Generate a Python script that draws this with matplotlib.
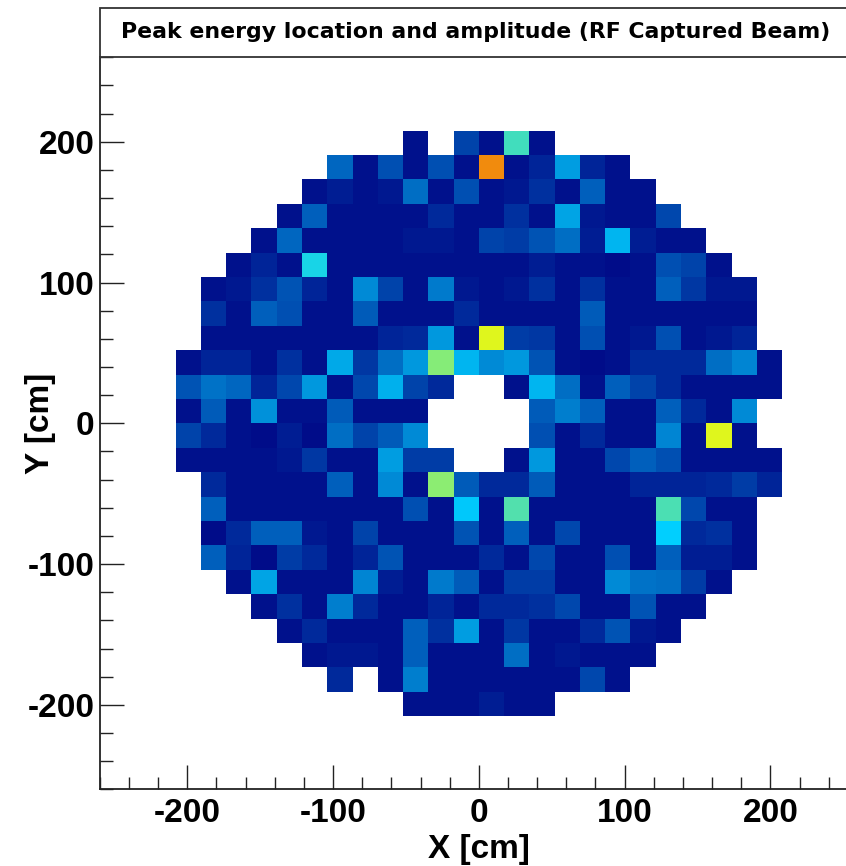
import numpy as np
import matplotlib
matplotlib.use("Agg")
import matplotlib.pyplot as plt
from matplotlib.colors import LinearSegmentedColormap
from matplotlib.patches import Rectangle
from matplotlib.ticker import MultipleLocator

# histogram binning: 30 x 30 bins from -260 to 260 cm
n_bins = 30
lo, hi = -260, 260
first_bin = 3  # the detector disc starts at bin 3 in x and y

# peak amplitude per cell, rows from top (y=+208) to bottom, 0 = empty bin
peak = [
    [0, 0, 0, 0, 0, 0, 0, 0, 0, 3, 0, 11, 3, 42, 3, 0, 0, 0, 0, 0, 0, 0, 0, 0],
    [0, 0, 0, 0, 0, 0, 17, 3, 13, 3, 13, 3, 74, 3, 6, 26, 6, 3, 0, 0, 0, 0, 0, 0],
    [0, 0, 0, 0, 0, 3, 5, 3, 4, 18, 3, 13, 3, 4, 8, 3, 16, 3, 3, 0, 0, 0, 0, 0],
    [0, 0, 0, 0, 3, 16, 3, 3, 3, 3, 7, 3, 3, 8, 3, 27, 4, 3, 3, 12, 0, 0, 0, 0],
    [0, 0, 0, 3, 17, 3, 3, 3, 3, 4, 4, 3, 11, 10, 14, 18, 5, 30, 5, 3, 3, 0, 0, 0],
    [0, 0, 3, 6, 3, 37, 3, 3, 3, 3, 3, 3, 3, 3, 5, 3, 3, 2, 3, 13, 11, 3, 0, 0],
    [0, 3, 4, 8, 14, 6, 3, 23, 11, 3, 20, 4, 3, 4, 8, 3, 8, 3, 3, 16, 9, 4, 4, 0],
    [0, 8, 3, 16, 13, 3, 3, 15, 3, 3, 3, 7, 3, 3, 3, 3, 15, 3, 3, 3, 3, 3, 3, 0],
    [0, 3, 3, 3, 3, 3, 3, 3, 6, 7, 25, 3, 62, 10, 9, 3, 13, 3, 4, 13, 3, 4, 6, 0],
    [3, 6, 6, 3, 8, 3, 28, 9, 18, 25, 50, 30, 23, 25, 14, 3, 2, 3, 7, 7, 7, 18, 22, 3],
    [14, 19, 17, 6, 12, 25, 3, 12, 29, 11, 7, 0, 0, 3, 30, 18, 3, 16, 11, 7, 3, 3, 3, 3],
    [3, 15, 3, 24, 3, 3, 15, 3, 3, 3, 0, 0, 0, 0, 15, 21, 16, 3, 3, 16, 7, 3, 23, 0],
    [11, 7, 3, 2, 5, 2, 18, 11, 15, 23, 0, 0, 0, 0, 13, 3, 7, 3, 3, 22, 3, 62, 3, 0],
    [3, 3, 3, 3, 4, 9, 3, 3, 26, 10, 10, 0, 0, 3, 25, 3, 3, 12, 16, 13, 3, 3, 3, 3],
    [0, 7, 3, 3, 3, 3, 16, 3, 23, 3, 51, 15, 7, 7, 15, 3, 3, 3, 6, 6, 6, 7, 10, 6],
    [0, 16, 3, 3, 3, 3, 3, 3, 3, 13, 3, 33, 3, 44, 3, 3, 3, 3, 3, 43, 12, 3, 3, 0],
    [0, 2, 7, 16, 16, 4, 3, 11, 3, 3, 3, 14, 3, 16, 3, 12, 3, 3, 3, 34, 7, 8, 3, 0],
    [0, 16, 6, 2, 10, 7, 3, 6, 14, 3, 3, 3, 7, 3, 12, 3, 3, 13, 3, 16, 5, 5, 3, 0],
    [0, 0, 3, 27, 3, 3, 3, 22, 5, 3, 20, 15, 3, 10, 10, 3, 3, 23, 19, 18, 10, 3, 0, 0],
    [0, 0, 0, 3, 8, 3, 21, 7, 3, 3, 6, 3, 7, 7, 8, 12, 3, 3, 14, 3, 3, 0, 0, 0],
    [0, 0, 0, 0, 3, 7, 3, 3, 3, 16, 8, 26, 3, 9, 3, 3, 7, 14, 4, 3, 0, 0, 0, 0],
    [0, 0, 0, 0, 0, 3, 4, 4, 3, 16, 3, 3, 3, 18, 3, 4, 3, 3, 3, 0, 0, 0, 0, 0],
    [0, 0, 0, 0, 0, 0, 7, 0, 3, 21, 3, 3, 3, 3, 3, 3, 12, 3, 0, 0, 0, 0, 0, 0],
    [0, 0, 0, 0, 0, 0, 0, 0, 0, 3, 3, 3, 5, 3, 3, 0, 0, 0, 0, 0, 0, 0, 0, 0],
]

title = "Peak energy location and amplitude (RF Captured Beam)"

# ROOT style rainbow palette
stops = [0.00, 0.34, 0.61, 0.84, 1.00]
red = [0.00, 0.00, 0.87, 1.00, 0.51]
green = [0.00, 0.81, 1.00, 0.20, 0.00]
blue = [0.51, 1.00, 0.12, 0.00, 0.00]
cmap = LinearSegmentedColormap.from_list(
    "root_rainbow", [(s, (r, g, b)) for s, r, g, b in zip(stops, red, green, blue)])

edges = np.linspace(lo, hi, n_bins + 1)
counts = np.zeros((n_bins, n_bins))
disc = np.array(peak, dtype=float)[::-1]
k = disc.shape[0]
counts[first_bin:first_bin + k, first_bin:first_bin + k] = disc
counts = np.ma.masked_equal(counts, 0)

plt.rcParams['font.family'] = ['Liberation Sans', 'DejaVu Sans']
plt.rcParams['font.weight'] = 'bold'
plt.rcParams['axes.unicode_minus'] = False

W, H = 846, 866
fig = plt.figure(figsize=(W / 100, H / 100), dpi=100)
ax = fig.add_axes([99.85 / W, 1 - 789.3 / H, 758 / W, 732 / H])

ax.pcolormesh(edges, edges, counts, cmap=cmap, vmin=0, vmax=100)
ax.set_xlim(lo, hi)
ax.set_ylim(lo, hi)

ax.xaxis.set_major_locator(MultipleLocator(100))
ax.xaxis.set_minor_locator(MultipleLocator(20))
ax.yaxis.set_major_locator(MultipleLocator(100))
ax.yaxis.set_minor_locator(MultipleLocator(20))
ax.tick_params(which='both', direction='in', top=False, right=False, width=1.0, color='#222222')
ax.tick_params(which='major', length=17, labelsize=24)
ax.tick_params(axis='y', which='major', pad=4)
ax.tick_params(axis='x', which='major', pad=6)
ax.tick_params(which='minor', length=9)
for lab in ax.get_xticklabels() + ax.get_yticklabels():
    lab.set_fontweight('bold')

for side in ['top', 'right']:
    ax.spines[side].set_visible(False)
for side in ['left', 'bottom']:
    ax.spines[side].set_linewidth(1.3)
    ax.spines[side].set_color('#222222')

ax.set_xlabel("X [cm]", fontsize=24, fontweight='bold')
ax.set_ylabel("Y [cm]", fontsize=24, fontweight='bold')
ax.xaxis.set_label_coords(0.5, (789.3 - 834) / 732)
ax.yaxis.set_label_coords((56 - 99.85) / 758, 0.5)

# title box above the frame
box = Rectangle((99.85 / W, 1 - 57.3 / H), 758 / W, 49.6 / H,
                transform=fig.transFigure, fill=False, edgecolor='#333333', linewidth=1.3)
fig.patches.append(box)
fig.text(476 / W, 1 - 38.5 / H, title, ha='center', va='baseline',
         fontsize=15.8, fontweight='bold', family='DejaVu Sans')

fig.savefig("out.png", dpi=100)
